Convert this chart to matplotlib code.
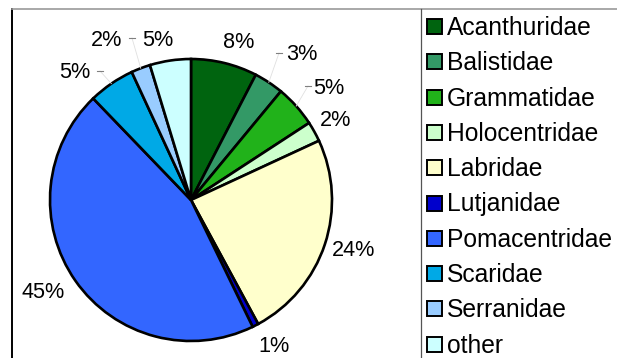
import numpy as np
import matplotlib.pyplot as plt
from matplotlib.patches import Rectangle

plt.rcParams["font.family"] = ["Liberation Sans", "DejaVu Sans"]

families = [
    "Acanthuridae", "Balistidae", "Grammatidae", "Holocentridae", "Labridae",
    "Lutjanidae", "Pomacentridae", "Scaridae", "Serranidae", "other",
]
shares = [7.6, 3.4, 4.8, 2.3, 24.0, 0.7, 45.0, 5.3, 2.2, 4.7]
colors = [
    "#00640f", "#339966", "#21b21a", "#ccffcc", "#ffffcc",
    "#0000cc", "#3366ff", "#00a9e6", "#99ccff", "#ccffff",
]

# label anchor points (pixels from top-left), and which labels carry a leader dash
label_xy = [
    (239, 40), (302, 52), (329, 86), (336, 118), (354, 249),
    (274, 344), (43, 290), (75, 70), (107, 38), (158, 38),
]
dash_xy = {1: (279, 53), 2: (308, 86), 7: (100, 71), 8: (132, 38)}

W, H = 617, 358
fig = plt.figure(figsize=(W / 100, H / 100), dpi=100)
axis = fig.add_axes([0, 0, 1, 1])


def py(y):
    """Convert a top-down pixel row into data y."""
    return H - y


center = (191, py(200))
radius = 141
wedges, _ = axis.pie(
    shares,
    colors=colors,
    startangle=90,
    counterclock=False,
    center=center,
    radius=radius,
    wedgeprops=dict(edgecolor="black", linewidth=1.9),
)

total = sum(shares)
for index, (share, (lx, ly)) in enumerate(zip(shares, label_xy)):
    axis.text(lx, py(ly + 7.5), f"{round(share / total * 100)}%",
              ha="center", va="baseline", fontsize=15.6, color="black")

# leader lines: faint stroke from the wedge rim to a short dash by the label
for index, (dx, dy) in dash_xy.items():
    wedge = wedges[index]
    mid = np.deg2rad((wedge.theta1 + wedge.theta2) / 2)
    rim_x = center[0] + radius * np.cos(mid)
    rim_y = center[1] + radius * np.sin(mid)
    axis.plot([rim_x, dx], [rim_y, py(dy)], color="#e0e0e0", linewidth=0.6, zorder=1)
    axis.plot([dx - 3, dx + 3], [py(dy), py(dy)], color="#808080", linewidth=0.8)

# legend column
row_top, row_step = 26.5, 35.3
for index, (name, color) in enumerate(zip(families, colors)):
    yc = row_top + index * row_step
    axis.add_patch(Rectangle((427, py(yc + 7.5)), 15, 15, facecolor=color,
                             edgecolor="black", linewidth=1.4))
    axis.text(447, py(yc + 8.4), name, ha="left", va="baseline",
              fontsize=17.7, color="black")

# chart frame and legend box edges
axis.plot([12, 12], [py(9), 0], color="black", linewidth=1.4)
axis.plot([12, W], [py(8.5), py(8.5)], color="#9a9a9a", linewidth=1.2)
axis.plot([421, 421], [py(9), 0], color="#555555", linewidth=0.9)

axis.set_xlim(0, W)
axis.set_ylim(0, H)
axis.set_aspect("equal")
axis.axis("off")

fig.savefig("out.png", dpi=100, facecolor="white")
